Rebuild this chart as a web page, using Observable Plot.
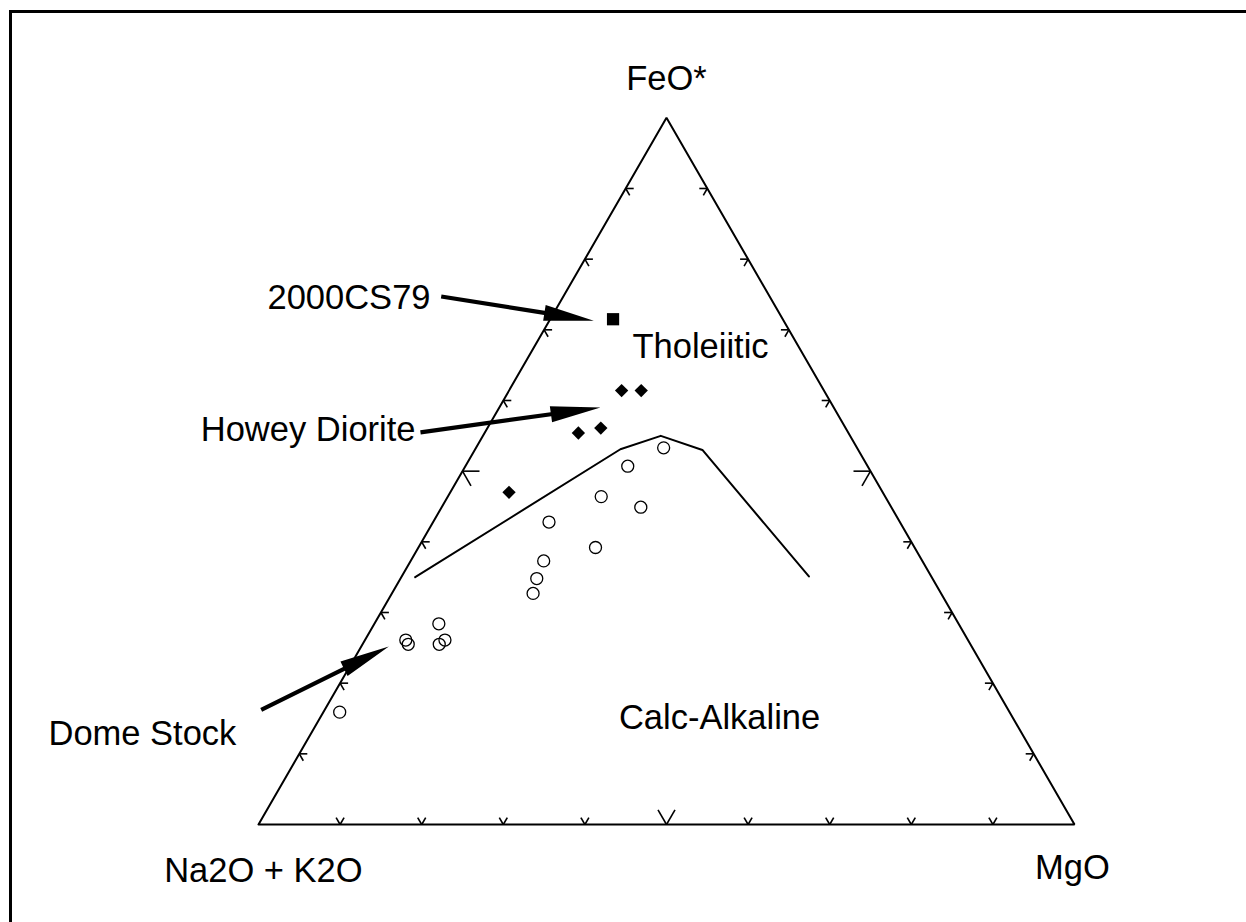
<!DOCTYPE html>
<html><head><meta charset="utf-8">
<script src="https://cdn.jsdelivr.net/npm/d3@7"></script>
<script src="https://cdn.jsdelivr.net/npm/@observablehq/plot@0.6"></script>
<style>
html,body{margin:0;padding:0;background:#fff;overflow:hidden;width:1246px;height:922px;}
#chart{position:absolute;left:0;top:0;}
#frame{position:absolute;left:9px;top:10px;width:1400px;height:1100px;border-left:3px solid #000;border-top:3px solid #000;pointer-events:none;}
</style></head><body>
<div id="chart"></div><div id="frame"></div>
<script>
// ---- Data: ternary compositions (percent), FeO* and MgO; alkalis = 100 - FeO - MgO
const cs79FeO = [71.5];
const cs79MgO = [7.7];
const howeyFeO = [61.4, 61.4, 55.4, 56.1, 47.0];
const howeyMgO = [13.8, 16.2, 11.5, 13.9, 7.2];
const domeFeO = [53.3, 50.7, 46.4, 44.9, 42.8, 39.2, 37.3, 34.8, 32.7, 28.4, 26.1, 25.5, 26.1, 25.5, 15.9];
const domeMgO = [23.0, 19.9, 18.8, 24.4, 14.2, 21.7, 16.3, 16.7, 17.3, 7.9, 5.0, 5.6, 9.8, 9.4, 2.0];
// Tholeiitic / calc-alkaline dividing line
const boundaryFeO = [35.0, 53.1, 55.0, 53.0, 35.1];
const boundaryMgO = [1.7, 17.8, 21.8, 27.9, 49.9];
// Triangle ticks (percent along each edge)
const tickValues = [10, 20, 30, 40, 50, 60, 70, 80, 90];
const majorTick = 50;
// Vertices (FeO*, alkalis, MgO apexes)
const vertexFeO = [100, 0, 0];
const vertexMgO = [0, 0, 100];
// Vertex labels (diagram units: u along base, v = height fraction)
const vertexNames = ["FeO*", "Na2O + K2O", "MgO"];
const vertexLabelU = [0.5, 0.006, 0.9975];
const vertexLabelV = [1.0552, -0.0651, -0.0608];
// Field labels
const fieldNames = ["Tholeiitic", "Calc-Alkaline"];
const fieldLabelU = [0.5417, 0.5650];
const fieldLabelV = [0.6761, 0.1513];
// Callouts
const calloutNames = ["2000CS79", "Howey Diorite", "Dome Stock"];
const calloutLabelU = [0.2108, 0.1924, -0.2574];
const calloutLabelV = [0.7454, 0.5587, 0.1287];
const calloutTailU = [0.2239, 0.1985, 0.0033];
const calloutTailV = [0.7472, 0.5549, 0.1622];
const calloutTipU = [0.4109, 0.4191, 0.1597];
const calloutTipV = [0.7129, 0.5902, 0.2518];

// ---- Layout
const W = 1246, H = 922;
const ML = 258, MR = 172, MB = 98;
const MT = H - MB - (W - ML - MR) * Math.sqrt(3) / 2;
const FONT = "'Liberation Sans', Arial, Helvetica, sans-serif";
const FS = 34.5;

// ternary -> diagram units
const tern = (F, M) => ({u: (M + F / 2) / 100, v: F / 100});
const pts = (Fs, Ms) => Fs.map((F, i) => tern(F, Ms[i]));
const cs79 = pts(cs79FeO, cs79MgO);
const howey = pts(howeyFeO, howeyMgO);
const dome = pts(domeFeO, domeMgO);
const boundary = pts(boundaryFeO, boundaryMgO);
const verts = pts(vertexFeO, vertexMgO);
const outline = [verts[1], verts[2], verts[0], verts[1]];

const labelsOf = (names, U, V) => names.map((t, i) => ({t, u: U[i], v: V[i]}));
const vertexLabels = labelsOf(vertexNames, vertexLabelU, vertexLabelV);
const fieldLabels = labelsOf(fieldNames, fieldLabelU, fieldLabelV);
const calloutLabels = labelsOf(calloutNames, calloutLabelU, calloutLabelV);

// ticks: bottom edge (FeO=0), left edge (MgO=0), right edge (alkali=0)
const ticks = [];
for (const t of tickValues) {
  const len = t === majorTick ? 17 : 8;
  const b = tern(0, t), l = tern(t, 0), r = tern(t, 100 - t);
  ticks.push({...b, len, rot: 30}, {...b, len, rot: -30});
  ticks.push({...l, len, rot: 90}, {...l, len, rot: 150});
  ticks.push({...r, len, rot: -90}, {...r, len, rot: 210});
}
const lineShape = {draw(ctx, l) { ctx.moveTo(0, 0); ctx.lineTo(0, -l); }};

// callout arrows measured through the same scales as the chart
const sx = Plot.scale({x: {domain: [0, 1], range: [ML, W - MR]}});
const sy = Plot.scale({y: {domain: [0, 1], range: [H - MB, MT]}});
const arrows = calloutNames.map((n, i) => {
  const x1 = sx.apply(calloutTailU[i]), y1 = sy.apply(calloutTailV[i]);
  const x2 = sx.apply(calloutTipU[i]), y2 = sy.apply(calloutTipV[i]);
  const dx = x2 - x1, dy = y2 - y1;
  return {u: calloutTailU[i], v: calloutTailV[i], len: Math.hypot(dx, dy), rot: Math.atan2(dx, -dy) * 180 / Math.PI};
});
const arrowShape = {
  draw(ctx, l) {
    const hl = 50, hw = 8, sw = 2.1, b = -(l - hl);
    ctx.moveTo(-sw, 0); ctx.lineTo(-sw, b); ctx.lineTo(-hw, b); ctx.lineTo(0, -l);
    ctx.lineTo(hw, b); ctx.lineTo(sw, b); ctx.lineTo(sw, 0); ctx.closePath();
  }
};

const textOpts = {x: "u", y: "v", text: "t", fontSize: FS, lineAnchor: "middle", fill: "black"};

const chart = Plot.plot({
  width: W, height: H,
  marginLeft: ML, marginRight: MR, marginTop: MT, marginBottom: MB,
  x: {domain: [0, 1], axis: null},
  y: {domain: [0, 1], axis: null},
  length: {type: "identity"},
  style: {fontFamily: FONT, background: "white", color: "black", overflow: "visible"},
  marks: [
    Plot.line(outline, {x: "u", y: "v", stroke: "black", strokeWidth: 2, strokeLinejoin: "miter"}),
    Plot.vector(ticks, {x: "u", y: "v", length: "len", rotate: "rot", anchor: "start", shape: lineShape, stroke: "black", strokeWidth: 1.6, strokeLinecap: "butt"}),
    Plot.line(boundary, {x: "u", y: "v", stroke: "black", strokeWidth: 2}),
    Plot.dot(dome, {x: "u", y: "v", r: 6, stroke: "black", strokeWidth: 1.3, fill: "none"}),
    Plot.dot(howey, {x: "u", y: "v", r: 6, symbol: "diamond2", fill: "black", stroke: "none"}),
    Plot.dot(cs79, {x: "u", y: "v", r: 6.9, symbol: "square", fill: "black", stroke: "none"}),
    Plot.vector(arrows, {x: "u", y: "v", length: "len", rotate: "rot", anchor: "start", shape: arrowShape, fill: "black", stroke: "none"}),
    Plot.text(vertexLabels, {...textOpts, textAnchor: "middle"}),
    Plot.text(fieldLabels, {...textOpts, textAnchor: "middle"}),
    Plot.text(calloutLabels.slice(0, 2), {...textOpts, textAnchor: "end"}),
    Plot.text(calloutLabels.slice(2), {...textOpts, textAnchor: "start"})
  ]
});
document.getElementById("chart").appendChild(chart);
</script>
</body></html>
